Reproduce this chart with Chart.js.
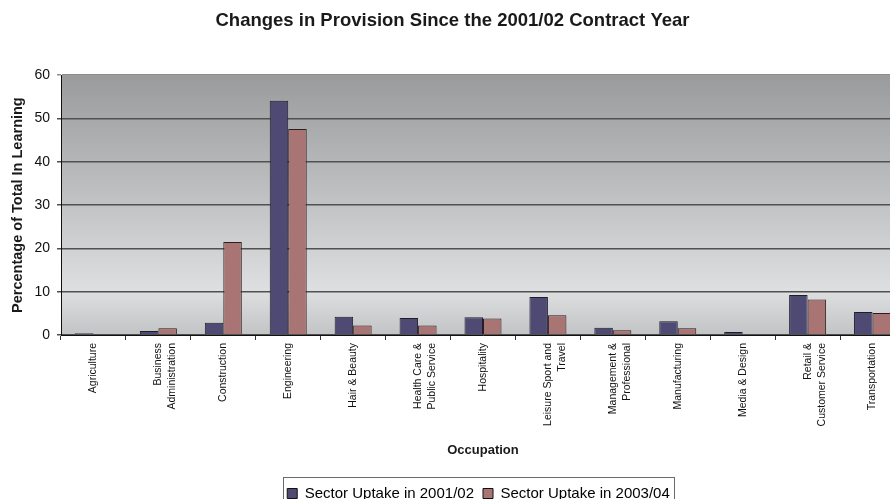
<!DOCTYPE html>
<html>
<head>
<meta charset="utf-8">
<script src="https://cdn.jsdelivr.net/npm/chart.js@4.4.1/dist/chart.umd.min.js"></script>
<style>
  html, body { margin: 0; padding: 0; background: #fff; overflow: hidden; width: 890px; height: 499px; }
  #wrap { position: absolute; left: 0; top: 0; width: 910px; height: 511px; }
</style>
</head>
<body>
<div id="wrap"><canvas id="c" width="910" height="511"></canvas></div>
<script>
const categories = [
  'Agriculture',
  ['Business', 'Administration'],
  'Construction',
  'Engineering',
  'Hair & Beauty',
  ['Health Care &', 'Public Service'],
  'Hospitality',
  ['Leisure Sport and', 'Travel'],
  ['Management &', 'Professional'],
  'Manufacturing',
  'Media & Design',
  ['Retail &', 'Customer Service'],
  'Transportation'
];
const uptake2001 = [0.4, 0.9, 2.85, 54.1, 4.2, 3.9, 4.1, 8.8, 1.7, 3.2, 0.7, 9.25, 5.3];
const uptake2003 = [0.15, 1.55, 21.5, 47.6, 2.2, 2.2, 3.8, 4.55, 1.1, 1.55, 0.15, 8.2, 5.1];
const seriesNames = ['Sector Uptake in 2001/02', 'Sector Uptake in 2003/04'];
const yTicks = [0, 10, 20, 30, 40, 50, 60];

const FONT = "'Liberation Sans', Arial, Helvetica, sans-serif";

const bgPlugin = {
  id: 'plotBg',
  beforeDraw(chart) {
    const {ctx, chartArea: a} = chart;
    const g = ctx.createLinearGradient(0, a.top, 0, a.bottom);
    g.addColorStop(0, '#9a9b9d');
    g.addColorStop(0.45, '#bebfc1');
    g.addColorStop(0.83, '#dedfe0');
    g.addColorStop(1, '#c2c3c5');
    ctx.save();
    ctx.fillStyle = g;
    ctx.fillRect(a.left, a.top, a.right - a.left, a.bottom - a.top);
    ctx.restore();
  }
};

const legendShift = {
  id: 'legendShift',
  afterLayout(chart) {
    const lg = chart.legend;
    if (!lg) return;
    lg.left += 26; lg.right += 26;
    if (lg.adjustHitBoxes) lg.adjustHitBoxes();
  }
};

const legendBorder = {
  id: 'legendBorder',
  afterDraw(chart) {
    const lg = chart.legend;
    if (!lg || !lg.legendHitBoxes || !lg.legendHitBoxes.length) return;
    const boxes = lg.legendHitBoxes;
    const l = Math.min(...boxes.map(b => b.left)) - 4;
    const r = Math.max(...boxes.map(b => b.left + b.width)) + 4;
    const t = lg.top;
    const ctx = chart.ctx;
    ctx.save();
    ctx.strokeStyle = '#6a6a6a';
    ctx.lineWidth = 1;
    ctx.strokeRect(Math.round(l) + 0.5, Math.round(t) + 0.5, Math.round(r - l), 40);
    ctx.restore();
  }
};

new Chart(document.getElementById('c'), {
  type: 'bar',
  data: {
    labels: categories,
    datasets: [
      { label: seriesNames[0], data: uptake2001, backgroundColor: '#4e4a73', borderColor: '#1e1e2a', borderWidth: 1 },
      { label: seriesNames[1], data: uptake2003, backgroundColor: '#a87474', borderColor: '#2a1e1e', borderWidth: 1 }
    ]
  },
  options: {
    responsive: false,
    animation: false,
    devicePixelRatio: 1,
    datasets: { bar: { categoryPercentage: 0.57, barPercentage: 1.0 } },
    layout: { padding: { left: 0, right: 5, top: 10, bottom: 0 } },
    plugins: {
      title: {
        display: true,
        text: 'Changes in Provision Since the 2001/02 Contract Year',
        color: '#1a1a1a',
        font: { family: FONT, size: 18.5, weight: 'bold' },
        padding: { top: 0, bottom: 43 }
      },
      legend: {
        position: 'bottom',
        labels: {
          color: '#111',
          font: { family: FONT, size: 15 },
          boxWidth: 10,
          boxHeight: 10,
          padding: 9,
          generateLabels(chart) {
            return chart.data.datasets.map((d, i) => ({
              text: d.label,
              fillStyle: d.backgroundColor,
              strokeStyle: '#111',
              lineWidth: 1,
              datasetIndex: i,
              hidden: false
            }));
          }
        }
      },
      tooltip: { enabled: false }
    },
    scales: {
      x: {
        afterFit(s) { s.height = 142; },
        grid: { drawOnChartArea: false, drawTicks: true, tickLength: 5, color: '#333', offset: true },
        border: { color: '#111', width: 1 },
        ticks: {
          autoSkip: false, maxRotation: 90, minRotation: 90, padding: 3,
          color: '#111',
          font: { family: FONT, size: 10.5, lineHeight: 1.35 }
        },
        title: {
          display: true, text: 'Occupation', color: '#1a1a1a',
          font: { family: FONT, size: 13, weight: 'bold' },
          padding: { top: 4, bottom: 19 }
        }
      },
      y: {
        min: 0, max: 60,
        afterFit(s) { s.width = 61; },
        afterBuildTicks(s) { s.ticks = yTicks.map(v => ({ value: v })); },
        grid: {
          color(ctx) { return ctx.tick && ctx.tick.value === 60 ? '#8c8c8c' : '#505050'; },
          lineWidth: 1.5, tickLength: 4, drawTicks: true
        },
        border: { color: '#111', width: 1 },
        ticks: { color: '#111', padding: 7, font: { family: FONT, size: 14 } },
        title: {
          display: true, text: 'Percentage of Total In Learning', color: '#1a1a1a',
          font: { family: FONT, size: 14.5, weight: 'bold' },
          padding: { top: 9, bottom: 0 }
        }
      }
    }
  },
  plugins: [bgPlugin, legendShift, legendBorder]
});
</script>
</body>
</html>
